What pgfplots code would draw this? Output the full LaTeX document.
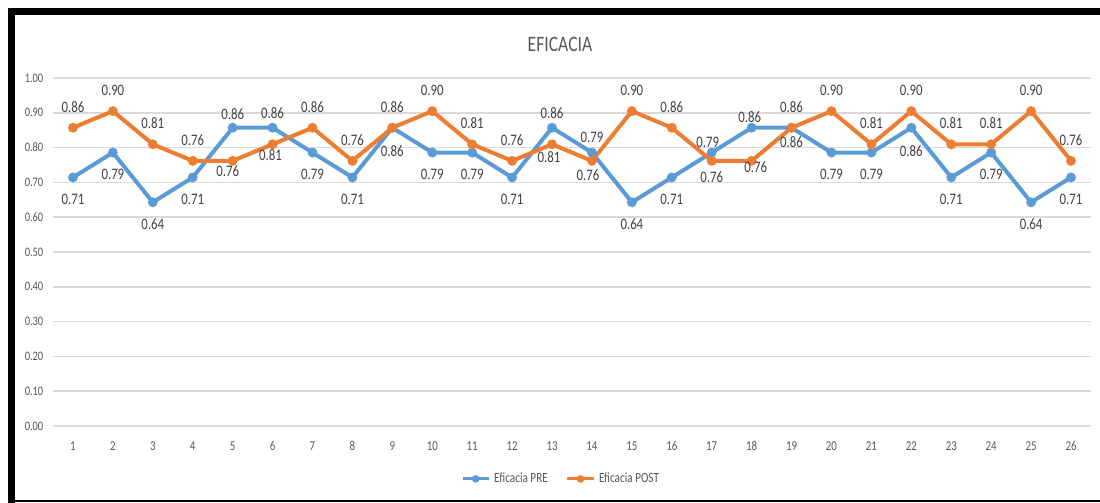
\documentclass[border=0pt]{standalone}
\usepackage{pgfplots}
\pgfplotsset{compat=1.18}
\usepackage{pgfplotstable}
\usepackage{fontspec}
\setmainfont{Carlito}[FakeStretch=0.8]
\definecolor{cpre}{HTML}{5B9BD5}
\definecolor{cpost}{HTML}{ED7D31}
\definecolor{ctick}{HTML}{595959}
\definecolor{clab}{HTML}{404040}
\definecolor{cgrid}{HTML}{D9D9D9}

% x, value, label dx (px), label dy (px, up positive)
\pgfplotstableread{
x pre dxa dya
1 0.7143 0 -22
2 0.7857 0 -22
3 0.6429 0 -22
4 0.7143 0 -22
5 0.8571 0 14
6 0.8571 0 15
7 0.7857 0 -22
8 0.7143 0 -22
9 0.8571 0 -23
10 0.7857 0 -22
11 0.7857 0 -22
12 0.7143 0 -22
13 0.8571 0 15
14 0.7857 0 15
15 0.6429 0 -22
16 0.7143 0 -22
17 0.7857 -4 10
18 0.8571 -2 11
19 0.8571 0 -14
20 0.7857 0 -22
21 0.7857 0 -22
22 0.8571 0 -23
23 0.7143 0 -22
24 0.7857 0 -22
25 0.6429 0 -22
26 0.7143 0 -22
}\pretable

\pgfplotstableread{
x post dxb dyb
1 0.8571 0 21
2 0.9048 0 21
3 0.8095 0 21
4 0.7619 0 21
5 0.7619 -5 -10
6 0.8095 -2 -11
7 0.8571 0 21
8 0.7619 0 21
9 0.8571 0 21
10 0.9048 0 21
11 0.8095 0 21
12 0.7619 0 21
13 0.8095 -3 -13
14 0.7619 -4 -14
15 0.9048 0 21
16 0.8571 0 21
17 0.7619 0 -16
18 0.7619 4 -6
19 0.8571 0 21
20 0.9048 0 21
21 0.8095 0 21
22 0.9048 0 21
23 0.8095 0 21
24 0.8095 0 21
25 0.9048 0 21
26 0.7619 0 21
}\posttable

\begin{document}
\begin{tikzpicture}
\useasboundingbox (0,0) rectangle (550pt,251.5pt);
\fill[white] (0,0) rectangle (550pt,251.5pt);
% frame
\fill[black] (4pt,244pt) rectangle (550pt,247.5pt);
\fill[black] (4pt,0pt) rectangle (7.5pt,247.5pt);
\fill[black] (4pt,0.5pt) rectangle (550pt,1.5pt);
\node[text=ctick, font=\fontsize{11}{12}\selectfont] at (280pt,229.5pt) {EFICACIA};
\begin{axis}[
  at={(26.5pt,38.5pt)}, anchor=south west,
  scale only axis, width=519pt, height=174pt,
  xmin=0.5, xmax=26.5, ymin=0, ymax=1,
  xtick={1,...,26},
  ytick={0,0.1,...,1.01},
  yticklabel={\pgfmathprintnumber[fixed,fixed zerofill,precision=2]{\tick}},
  /pgf/number format/assume math mode=true,
  axis line style={draw=none},
  major tick length=0pt,
  ymajorgrids,
  grid style={cgrid, line width=0.75pt},
  xticklabel style={anchor=center, yshift=-10pt, inner sep=0pt, text=ctick, font=\fontsize{6.8}{7}\selectfont},
  yticklabel style={anchor=center, xshift=-9.5pt, inner sep=0pt, text=ctick, font=\fontsize{6.5}{7}\selectfont},
  clip=false,
  legend style={at={(axis description cs:0.4904,-0.152)}, anchor=center, draw=none, fill=none,
    legend columns=2, font=\fontsize{7}{8}\selectfont, text=ctick,
    /tikz/every even column/.append style={column sep=7pt},
    inner sep=0pt, row sep=0pt},
  legend cell align=left,
  legend image code/.code={\draw[mark repeat=2,mark phase=2,#1, line width=1.5pt, mark size=1.1pt] plot coordinates {(0cm,0cm) (0.23cm,0cm) (0.46cm,0cm)};},
  nodes near coords={\pgfmathprintnumber[fixed,fixed zerofill,precision=2]{\pgfplotspointmeta}},
  point meta=y,
]
\addplot[cpre, line width=2pt, mark=*, mark size=1.4pt,
  visualization depends on={\thisrow{dxa} \as \ldx},
  visualization depends on={\thisrow{dya} \as \ldy},
  nodes near coords style={anchor=center, inner sep=0pt, text=clab, font=\fontsize{8}{9}\selectfont, xshift=\ldx*0.5pt, yshift=\ldy*0.5pt}]
  table[x=x, y=pre] {\pretable};
\addlegendentry{Eficacia PRE}
\addplot[cpost, line width=2pt, mark=*, mark size=1.4pt,
  visualization depends on={\thisrow{dxb} \as \ldx},
  visualization depends on={\thisrow{dyb} \as \ldy},
  nodes near coords style={anchor=center, inner sep=0pt, text=clab, font=\fontsize{8}{9}\selectfont, xshift=\ldx*0.5pt, yshift=\ldy*0.5pt}]
  table[x=x, y=post] {\posttable};
\addlegendentry{Eficacia POST}
\end{axis}
\end{tikzpicture}
\end{document}
